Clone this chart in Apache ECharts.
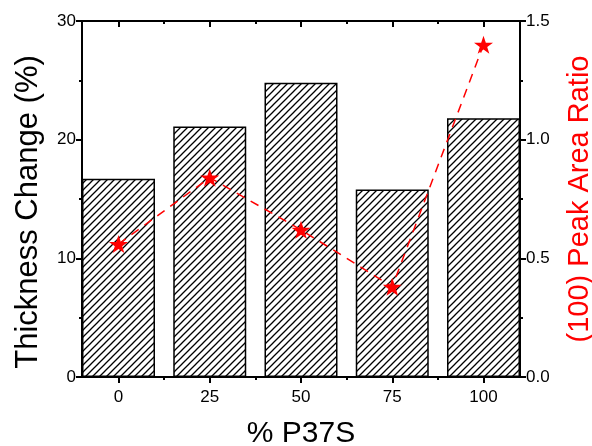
<!DOCTYPE html>
<html>
<head>
<meta charset="utf-8">
<script src="https://cdn.jsdelivr.net/npm/echarts@6/dist/echarts.min.js"></script>
<style>
  html, body { margin: 0; padding: 0; background: #fff; }
  #chart { width: 592px; height: 446px; }
</style>
</head>
<body>
<div id="chart"></div>
<script>
// % P37S content
const categories = [0, 25, 50, 75, 100];
// thickness change (%), left axis
const thickness = [16.7, 21.1, 24.8, 15.8, 21.8];
// (100) peak area ratio, right axis
const peakRatio = [0.56, 0.84, 0.62, 0.38, 1.40];
const minorX = [12.5, 37.5, 62.5, 87.5];

// hatch fill "///"
function makeHatch() {
  const c = document.createElement("canvas");
  const s = 7;
  c.width = s;
  c.height = s;
  const ctx = c.getContext("2d");
  ctx.fillStyle = "#fff";
  ctx.fillRect(0, 0, s, s);
  ctx.strokeStyle = "#000";
  ctx.lineWidth = 1.3;
  ctx.beginPath();
  ctx.moveTo(0, s); ctx.lineTo(s, 0);
  ctx.moveTo(-1, 1); ctx.lineTo(1, -1);
  ctx.moveTo(s - 1, s + 1); ctx.lineTo(s + 1, s - 1);
  ctx.stroke();
  return c;
}

const star = "path://M50,0 L61.8,35.1 L98.1,35.1 L68.8,56.7 L79.4,91 L50,70 L20.6,91 L31.2,56.7 L1.9,35.1 L38.2,35.1 Z";
const font = "Liberation Sans";
const axLine = { show: true, onZero: false, lineStyle: { color: "#000", width: 2 } };

const chart = echarts.init(document.getElementById("chart"));
chart.setOption({
  animation: false,
  textStyle: { fontFamily: font },
  grid: { left: 82, right: 72, top: 21, bottom: 69, outerBoundsMode: "none", containLabel: false },
  xAxis: [
    {
      type: "value", min: -10, max: 110, position: "bottom",
      axisLine: axLine,
      axisTick: { customValues: categories, length: 6, lineStyle: { color: "#000", width: 2 } },
      axisLabel: { customValues: categories, fontSize: 17, color: "#000", margin: 12, fontFamily: font },
      splitLine: { show: false },
      name: "% P37S", nameLocation: "middle", nameGap: 42,
      nameTextStyle: { fontSize: 30, color: "#000", fontFamily: font },
    },
    {
      type: "value", min: -10, max: 110, position: "bottom",
      axisLine: { show: false, onZero: false },
      axisTick: { customValues: minorX, length: 3, lineStyle: { color: "#000", width: 2 } },
      axisLabel: { show: false },
      splitLine: { show: false },
    },
    {
      type: "value", min: -10, max: 110, position: "top",
      axisLine: axLine,
      axisTick: { customValues: categories, inside: true, length: 6, lineStyle: { color: "#000", width: 2 } },
      axisLabel: { show: false },
      splitLine: { show: false },
    },
    {
      type: "value", min: -10, max: 110, position: "top",
      axisLine: { show: false, onZero: false },
      axisTick: { customValues: minorX, inside: true, length: 3, lineStyle: { color: "#000", width: 2 } },
      axisLabel: { show: false },
      splitLine: { show: false },
    },
  ],
  yAxis: [
    {
      type: "value", min: 0, max: 30, interval: 10, position: "left",
      axisLine: axLine,
      axisTick: { length: 6, lineStyle: { color: "#000", width: 2 } },
      minorTick: { show: true, splitNumber: 2, length: 3, lineStyle: { color: "#000", width: 2 } },
      axisLabel: { fontSize: 17, color: "#000", margin: 6, fontFamily: font },
      splitLine: { show: false },
      name: "Thickness Change (%)", nameLocation: "middle", nameGap: 38,
      nameTextStyle: { fontSize: 31, color: "#000", fontFamily: font, padding: [0, 26, 0, 0] },
    },
    {
      type: "value", min: 0, max: 1.5, interval: 0.5, position: "right",
      axisLine: axLine,
      axisTick: { length: 6, lineStyle: { color: "#000", width: 2 } },
      minorTick: { show: true, splitNumber: 2, length: 3, lineStyle: { color: "#000", width: 2 } },
      axisLabel: { fontSize: 17, color: "#000", margin: 6, fontFamily: font, formatter: (v) => v.toFixed(1) },
      splitLine: { show: false },
      name: "(100) Peak Area Ratio", nameLocation: "middle", nameGap: 45,
      nameTextStyle: { fontSize: 29, color: "#ff0000", fontFamily: font },
    },
  ],
  series: [
    {
      type: "bar",
      xAxisIndex: 0,
      yAxisIndex: 0,
      barWidth: 73,
      data: categories.map((c, i) => [c, thickness[i]]),
      itemStyle: {
        color: { image: makeHatch(), repeat: "repeat" },
        borderColor: "#000",
        borderWidth: 1.5,
      },
    },
    {
      type: "line",
      xAxisIndex: 0,
      yAxisIndex: 1,
      z: 5,
      data: categories.map((c, i) => [c, peakRatio[i]]),
      symbol: star,
      symbolSize: 19,
      symbolKeepAspect: true,
      itemStyle: { color: "#ff0000" },
      lineStyle: { color: "#ff0000", width: 1.5, type: [9, 7] },
    },
  ],
});
</script>
</body>
</html>
